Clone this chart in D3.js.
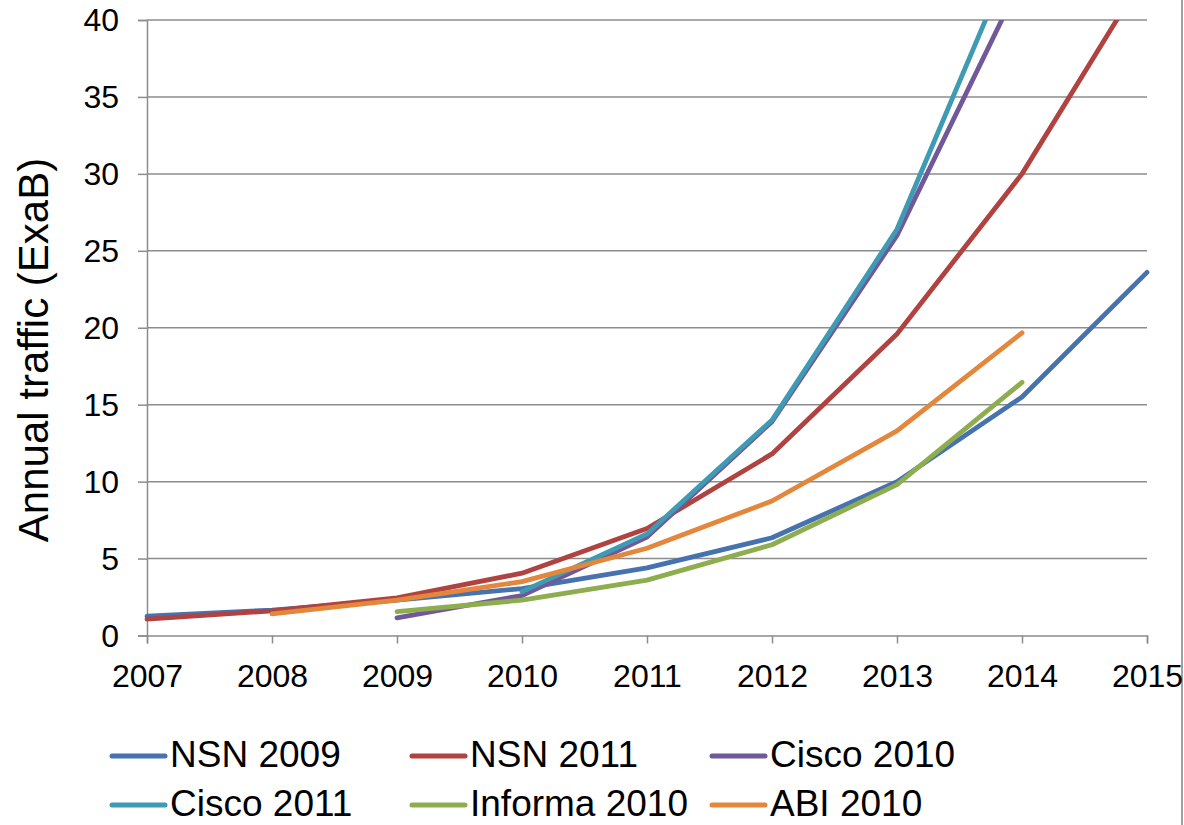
<!DOCTYPE html>
<html>
<head>
<meta charset="utf-8">
<script src="https://cdn.jsdelivr.net/npm/d3@7"></script>
<style>
  html, body { margin: 0; padding: 0; background: #fff; }
  svg { display: block; }
  text { font-family: Arial, "Liberation Sans", sans-serif; fill: #000; }
</style>
</head>
<body>
<svg id="chart" width="1184" height="825"></svg>
<script>
// ---- data ----
const years = [2007, 2008, 2009, 2010, 2011, 2012, 2013, 2014, 2015];
const yTicks = [0, 5, 10, 15, 20, 25, 30, 35, 40];
const seriesNames = ["NSN 2009", "NSN 2011", "Cisco 2010", "Cisco 2011", "Informa 2010", "ABI 2010"];
const nsn2009     = [1.25, 1.65, 2.3, 3.05, 4.4, 6.35, 10.0, 15.5, 23.6];
const nsn2011     = [1.07, 1.6, 2.45, 4.05, 6.95, 11.8, 19.6, 30.0, 43.2];
const cisco2010   = [null, null, 1.15, 2.6, 6.4, 13.9, 26.0, 42.7, null];
const cisco2011   = [null, null, null, 2.85, 6.6, 14.0, 26.4, 45.6, null];
const informa2010 = [null, null, 1.55, 2.3, 3.6, 5.9, 9.8, 16.45, null];
const abi2010     = [null, 1.4, 2.3, 3.5, 5.67, 8.74, 13.3, 19.67, null];
const seriesValues = [nsn2009, nsn2011, cisco2010, cisco2011, informa2010, abi2010];
const seriesColors = ["#4673B0", "#B0423F", "#715899", "#3F9AB3", "#8EAD4E", "#E2873B"];

// ---- layout ----
const svg = d3.select("#chart");
const x = d3.scaleLinear().domain([2007, 2015]).range([147, 1147]);
const y = d3.scaleLinear().domain([0, 40]).range([635.5, 20]);
const gridColor = "#8C8C8C";

// right border
svg.append("line").attr("x1", 1182).attr("x2", 1182).attr("y1", 0).attr("y2", 825)
  .attr("stroke", "#A0A0A0").attr("stroke-width", 2);

// gridlines
svg.append("g").selectAll("line").data(yTicks.filter(d => d > 0)).join("line")
  .attr("x1", x(2007)).attr("x2", x(2015))
  .attr("y1", d => y(d)).attr("y2", d => y(d))
  .attr("stroke", gridColor).attr("stroke-width", 1.5);

// y axis
const yAxis = d3.axisLeft(y).tickValues(yTicks).tickSize(9).tickPadding(19).tickFormat(d3.format("d"));
const gy = svg.append("g").attr("transform", `translate(${x(2007)},0)`).call(yAxis);
gy.select(".domain").attr("stroke", gridColor).attr("stroke-width", 1.5);
gy.selectAll(".tick line").attr("stroke", gridColor).attr("stroke-width", 1.5);
gy.selectAll(".tick text").attr("font-size", 32).attr("font-family", "Arial, 'Liberation Sans', sans-serif").attr("fill", "#000").attr("dy", "0.34em");

// x axis
const xAxis = d3.axisBottom(x).tickValues(years).tickSize(8).tickPadding(21).tickFormat(d3.format("d"));
const gx = svg.append("g").attr("transform", `translate(0,${y(0)})`).call(xAxis);
gx.select(".domain").attr("stroke", gridColor).attr("stroke-width", 1.5);
gx.selectAll(".tick line").attr("stroke", gridColor).attr("stroke-width", 1.5);
gx.selectAll(".tick text").attr("font-size", 32).attr("font-family", "Arial, 'Liberation Sans', sans-serif").attr("fill", "#000").attr("dy", "0.71em");

// y title
svg.append("text")
  .attr("transform", `translate(48,350) rotate(-90)`)
  .attr("text-anchor", "middle")
  .attr("font-size", 42)
  .text("Annual traffic (ExaB)");

// clip
svg.append("clipPath").attr("id", "plotclip").append("rect")
  .attr("x", 0).attr("y", y(40)).attr("width", 1184).attr("height", y(0) - y(40) + 20);

const line = d3.line()
  .defined(d => d.v !== null)
  .x(d => x(d.year)).y(d => y(d.v));

const gl = svg.append("g").attr("clip-path", "url(#plotclip)");
seriesNames.forEach((name, i) => {
  const pts = years.map((yr, j) => ({ year: yr, v: seriesValues[i][j] }));
  gl.append("path").datum(pts)
    .attr("d", line)
    .attr("fill", "none")
    .attr("stroke", seriesColors[i])
    .attr("stroke-width", 4.8)
    .attr("stroke-linejoin", "round")
    .attr("stroke-linecap", "round");
});

// legend
const legX = [112, 412, 712];
const legY = [756, 805];
seriesNames.forEach((name, i) => {
  const cx = legX[i % 3], cy = legY[Math.floor(i / 3)];
  svg.append("line").attr("x1", cx).attr("x2", cx + 53).attr("y1", cy).attr("y2", cy)
    .attr("stroke", seriesColors[i]).attr("stroke-width", 5).attr("stroke-linecap", "round");
  svg.append("text").attr("x", cx + 58).attr("y", cy + 11)
    .attr("font-size", 37).text(name);
});
</script>
</body>
</html>
